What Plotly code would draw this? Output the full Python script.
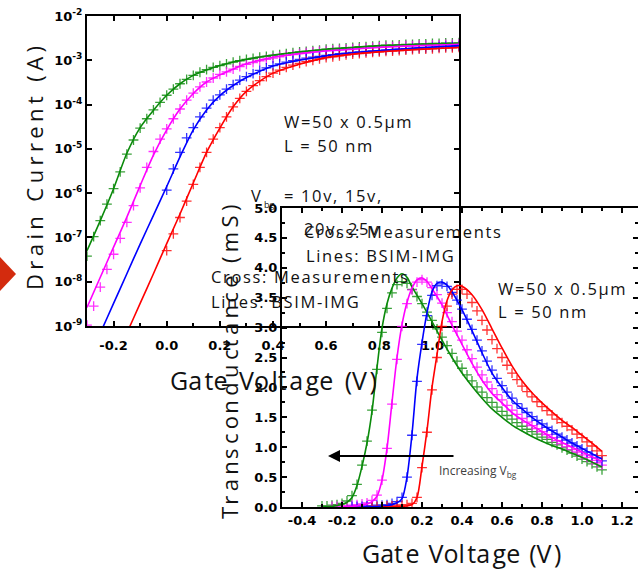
import plotly.graph_objects as go

# ---------------- data ----------------
# Left panel: Drain current (log10 of A) vs gate voltage (V)
V_LINE_ID = [-0.3, -0.25, -0.2, -0.15, -0.1, -0.05, 0.0, 0.05, 0.1, 0.15, 0.2, 0.25, 0.3,
             0.4, 0.5, 0.6, 0.7, 0.8, 0.9, 1.0, 1.1]
LOGID_LINE_GREEN = [-7.30, -6.62, -5.90, -5.10, -4.52, -4.13, -3.79, -3.53, -3.34, -3.22, -3.12,
                    -3.04, -2.98, -2.88, -2.81, -2.75, -2.71, -2.67, -2.65, -2.63, -2.62]
LOGID_LINE_MAGENTA = [-8.58, -7.90, -7.22, -6.54, -5.83, -5.14, -4.57, -4.10, -3.75, -3.49, -3.33,
                      -3.20, -3.08, -2.93, -2.85, -2.79, -2.75, -2.71, -2.68, -2.66, -2.64]
LOGID_LINE_BLUE = [-9.83, -9.16, -8.49, -7.82, -7.15, -6.50, -5.85, -5.18, -4.57, -4.12, -3.80,
                   -3.57, -3.39, -3.13, -3.00, -2.90, -2.83, -2.78, -2.74, -2.70, -2.67]
LOGID_LINE_RED = [-11.2, -10.5, -9.83, -9.16, -8.49, -7.82, -7.14, -6.47, -5.77, -5.08, -4.53,
                  -4.05, -3.70, -3.29, -3.09, -2.94, -2.86, -2.81, -2.77, -2.74, -2.71]

V_MEAS = [-0.300, -0.275, -0.250, -0.225, -0.200, -0.175, -0.150, -0.125, -0.100, -0.075,
          -0.050, -0.025, 0.000, 0.025, 0.050, 0.075, 0.100, 0.125, 0.150, 0.175,
          0.200, 0.225, 0.250, 0.275, 0.300, 0.325, 0.350, 0.375, 0.400, 0.425,
          0.450, 0.475, 0.500, 0.525, 0.550, 0.575, 0.600, 0.625, 0.650, 0.675,
          0.700, 0.725, 0.750, 0.775, 0.800, 0.825, 0.850, 0.875, 0.900, 0.925,
          0.950, 0.975, 1.000, 1.025, 1.050, 1.075, 1.100]

LOGID_MEAS_GREEN = [-7.42, -6.98, -6.62, -6.25, -5.90, -5.52, -5.12, -4.80, -4.53, -4.32,
                    -4.12, -3.95, -3.79, -3.65, -3.53, -3.43, -3.34, -3.27, -3.21, -3.16,
                    -3.12, -3.08, -3.04, -3.01, -2.98, -2.96, -2.93, -2.91, -2.89, -2.87,
                    -2.85, -2.83, -2.81, -2.80, -2.78, -2.77, -2.75, -2.74, -2.73, -2.72,
                    -2.71, -2.70, -2.69, -2.68, -2.67, -2.66, -2.66, -2.65, -2.64, -2.64,
                    -2.63, -2.63, -2.62, -2.62, -2.61, -2.61, -2.60]
LOGID_MEAS_MAGENTA = [-8.98, -8.55, -8.12, -7.72, -7.38, -7.02, -6.66, -6.28, -5.88, -5.42,
                      -5.06, -4.78, -4.55, -4.32, -4.10, -3.90, -3.74, -3.60, -3.49, -3.40,
                      -3.32, -3.26, -3.20, -3.14, -3.09, -3.05, -3.01, -2.98, -2.95, -2.92,
                      -2.89, -2.87, -2.85, -2.83, -2.81, -2.80, -2.78, -2.77, -2.76, -2.75,
                      -2.74, -2.73, -2.72, -2.71, -2.70, -2.69, -2.69, -2.68, -2.67, -2.67,
                      -2.66, -2.66, -2.65, -2.65, -2.64, -2.64, -2.63]
LOGID_MEAS_BLUE = [None] * 12 + [
    -5.93, -5.45, -5.08, -4.75, -4.52, -4.28, -4.08, -3.90, -3.78, -3.65,
    -3.55, -3.45, -3.37, -3.30, -3.23, -3.17, -3.12, -3.08, -3.04, -3.01,
    -2.98, -2.95, -2.93, -2.91, -2.89, -2.87, -2.85, -2.84, -2.82, -2.81,
    -2.80, -2.79, -2.78, -2.77, -2.76, -2.75, -2.74, -2.73, -2.72, -2.72,
    -2.71, -2.70, -2.69, -2.69, -2.68]
LOGID_MEAS_RED = [None] * 12 + [
    -7.30, -6.92, -6.55, -6.18, -5.80, -5.42, -5.08, -4.78, -4.52, -4.28,
    -4.05, -3.86, -3.70, -3.57, -3.46, -3.37, -3.29, -3.22, -3.16, -3.11,
    -3.07, -3.03, -3.00, -2.97, -2.94, -2.92, -2.90, -2.88, -2.86, -2.85,
    -2.83, -2.82, -2.81, -2.80, -2.79, -2.78, -2.77, -2.76, -2.75, -2.75,
    -2.74, -2.73, -2.72, -2.72, -2.71]

# Right panel: transconductance (mS) vs gate voltage (V)
V_GM_GREEN = [-0.3, -0.25, -0.2, -0.175, -0.15, -0.125, -0.1, -0.075, -0.05, -0.025, 0.0, 0.025,
              0.05, 0.075, 0.1, 0.125, 0.15, 0.2, 0.25, 0.3, 0.35, 0.4, 0.45, 0.5, 0.55, 0.6,
              0.65, 0.7, 0.75, 0.8, 0.85, 0.9, 0.95, 1.0, 1.05, 1.1]
GM_LINE_GREEN = [0.0, 0.01, 0.04, 0.08, 0.16, 0.36, 0.68, 1.07, 1.60, 2.33, 2.99, 3.40,
                 3.66, 3.83, 3.90, 3.84, 3.68, 3.40, 3.10, 2.79, 2.50, 2.24, 2.02, 1.82, 1.64, 1.50,
                 1.37, 1.27, 1.18, 1.10, 1.03, 0.97, 0.90, 0.83, 0.75, 0.67]
V_GM_MAGENTA = [-0.2, -0.15, -0.1, -0.075, -0.05, -0.025, 0.0, 0.025, 0.05, 0.075, 0.1, 0.125,
                0.15, 0.175, 0.2, 0.225, 0.25, 0.3, 0.35, 0.4, 0.45, 0.5, 0.55, 0.6, 0.65, 0.7,
                0.75, 0.8, 0.85, 0.9, 0.95, 1.0, 1.05, 1.1]
GM_LINE_MAGENTA = [0.0, 0.01, 0.03, 0.05, 0.09, 0.18, 0.45, 0.98, 1.75, 2.50, 3.05, 3.42,
                   3.66, 3.80, 3.83, 3.77, 3.65, 3.38, 3.04, 2.72, 2.40, 2.12, 1.90, 1.74, 1.58, 1.46,
                   1.36, 1.26, 1.16, 1.08, 1.00, 0.92, 0.84, 0.76]
V_GM_BLUE = [-0.1, 0.0, 0.05, 0.075, 0.1, 0.125, 0.15, 0.175, 0.2, 0.225, 0.25, 0.275, 0.3,
             0.325, 0.35, 0.4, 0.45, 0.5, 0.55, 0.6, 0.65, 0.7, 0.75, 0.8, 0.85, 0.9, 0.95,
             1.0, 1.05, 1.1]
GM_LINE_BLUE = [0.0, 0.01, 0.04, 0.07, 0.14, 0.50, 1.22, 2.15, 2.75, 3.25, 3.60, 3.74, 3.76,
                3.71, 3.60, 3.30, 2.95, 2.58, 2.24, 2.00, 1.79, 1.64, 1.50, 1.38, 1.27, 1.17, 1.07,
                0.98, 0.89, 0.80]
V_GM_RED = [0.0, 0.1, 0.15, 0.175, 0.2, 0.225, 0.25, 0.275, 0.3, 0.325, 0.35, 0.375, 0.4,
            0.45, 0.5, 0.55, 0.6, 0.65, 0.7, 0.75, 0.8, 0.85, 0.9, 0.95, 1.0, 1.05, 1.1]
GM_LINE_RED = [0.0, 0.01, 0.04, 0.16, 0.68, 1.28, 2.00, 2.55, 3.10, 3.45, 3.63, 3.70, 3.69,
               3.55, 3.30, 2.98, 2.66, 2.36, 2.11, 1.91, 1.74, 1.59, 1.45, 1.33, 1.20, 1.07, 0.93]

GM_MEAS_GREEN = [0.02, 0.02, 0.03, 0.04, 0.06, 0.10, 0.19, 0.38, 0.70, 1.10,
                 1.62, 2.30, 2.92, 3.32, 3.58, 3.72, 3.77, 3.74, 3.64, 3.52,
                 3.40, 3.26, 3.12, 2.98, 2.84, 2.70, 2.57, 2.44, 2.32, 2.21,
                 2.11, 2.01, 1.92, 1.83, 1.75, 1.67, 1.60, 1.53, 1.47, 1.41,
                 1.35, 1.30, 1.26, 1.22, 1.17, 1.13, 1.08, 1.04, 0.99, 0.95,
                 0.90, 0.85, 0.80, 0.76, 0.72, 0.67, 0.62]
GM_MEAS_MAGENTA = [None, None, 0.01,
                   0.01, 0.02, 0.02, 0.03, 0.04, 0.05, 0.07, 0.11, 0.20,
                   0.45, 0.98, 1.72, 2.47, 3.02, 3.40, 3.63, 3.76, 3.80, 3.76,
                   3.67, 3.55, 3.41, 3.25, 3.10, 2.94, 2.79, 2.63, 2.48, 2.34,
                   2.21, 2.09, 1.98, 1.88, 1.79, 1.70, 1.62, 1.55, 1.48, 1.42,
                   1.36, 1.31, 1.26, 1.21, 1.16, 1.11, 1.06, 1.01, 0.96, 0.92,
                   0.87, 0.83, 0.78, 0.74, 0.70]
GM_MEAS_BLUE = [None] * 6 + [0.01, 0.01, 0.01, 0.02, 0.02, 0.03,
                             0.03, 0.04, 0.06, 0.09, 0.16, 0.50, 1.20, 2.10, 2.72, 3.20,
                             3.54, 3.70, 3.73, 3.69, 3.59, 3.46, 3.31, 3.14, 2.97, 2.79,
                             2.61, 2.44, 2.29, 2.15, 2.03, 1.92, 1.82, 1.73, 1.65, 1.58,
                             1.51, 1.45, 1.39, 1.33, 1.28, 1.22, 1.17, 1.12, 1.07, 1.02,
                             0.97, 0.92, 0.87, 0.82, 0.77]
GM_MEAS_RED = [None] * 10 + [0.01, 0.01,
                             0.01, 0.02, 0.02, 0.03, 0.03, 0.04, 0.06, 0.16, 0.66, 1.25,
                             1.96, 2.50, 3.02, 3.36, 3.56, 3.64, 3.64, 3.56, 3.42, 3.28,
                             3.12, 2.96, 2.80, 2.65, 2.50, 2.37, 2.24, 2.13, 2.02, 1.93,
                             1.84, 1.76, 1.68, 1.61, 1.54, 1.47, 1.41, 1.35, 1.29, 1.22,
                             1.16, 1.09, 1.02, 0.94, 0.86]

X1_TICKS = [-0.2, 0.0, 0.2, 0.4, 0.6, 0.8, 1.0]
X1_TICKTEXT = ["-0.2", "0.0", "0.2", "0.4", "0.6", "0.8", "1.0"]
Y1_TICKS = [1e-9, 1e-8, 1e-7, 1e-6, 1e-5, 1e-4, 1e-3, 1e-2]
Y1_TICKTEXT = ["10<sup>-9</sup>", "10<sup>-8</sup>", "10<sup>-7</sup>", "10<sup>-6</sup>",
               "10<sup>-5</sup>", "10<sup>-4</sup>", "10<sup>-3</sup>", "10<sup>-2</sup>"]
X2_TICKS = [-0.4, -0.2, 0.0, 0.2, 0.4, 0.6, 0.8, 1.0, 1.2]
X2_TICKTEXT = ["-0.4", "-0.2", "0.0", "0.2", "0.4", "0.6", "0.8", "1.0", "1.2"]
Y2_TICKS = [0.0, 0.5, 1.0, 1.5, 2.0, 2.5, 3.0, 3.5, 4.0, 4.5, 5.0]
Y2_TICKTEXT = ["0.0", "0.5", "1.0", "1.5", "2.0", "2.5", "3.0", "3.5", "4.0", "4.5", "5.0"]

COLORS = {"green": "#0a8a0a", "magenta": "#ff00ff", "blue": "#0000ff", "red": "#ff0000"}

# ---------------- figure ----------------
W, H = 638, 569


def px(x):
    return x / W


def py(y):
    return 1 - y / H


def spaced(s, n=1.0):
    # mimic the wide letter spacing of the original slide text (hair spaces between glyphs)
    out = s[0]
    for i in range(1, len(s)):
        k = int(i * n) - int((i - 1) * n)
        out += "\u200a" * k + s[i]
    return out


fig = go.Figure()

left_lines = [("green", LOGID_LINE_GREEN), ("magenta", LOGID_LINE_MAGENTA),
              ("blue", LOGID_LINE_BLUE), ("red", LOGID_LINE_RED)]
left_meas = [("green", LOGID_MEAS_GREEN), ("magenta", LOGID_MEAS_MAGENTA),
             ("blue", LOGID_MEAS_BLUE), ("red", LOGID_MEAS_RED)]

for name, vals in left_meas:
    fig.add_trace(go.Scatter(
        x=V_MEAS, y=[None if v is None else 10 ** v for v in vals], mode="markers",
        marker=dict(symbol="cross-thin", size=7, color=COLORS[name],
                    line=dict(color=COLORS[name], width=1.3)),
        opacity=0.8, xaxis="x", yaxis="y", showlegend=False))
for name, vals in left_lines:
    fig.add_trace(go.Scatter(
        x=V_LINE_ID, y=[10 ** v for v in vals], mode="lines",
        line=dict(color=COLORS[name], width=1.6, shape="spline", smoothing=0.8),
        xaxis="x", yaxis="y", showlegend=False))

right_lines = [("green", V_GM_GREEN, GM_LINE_GREEN), ("magenta", V_GM_MAGENTA, GM_LINE_MAGENTA),
               ("blue", V_GM_BLUE, GM_LINE_BLUE), ("red", V_GM_RED, GM_LINE_RED)]
right_meas = [("green", GM_MEAS_GREEN), ("magenta", GM_MEAS_MAGENTA),
              ("blue", GM_MEAS_BLUE), ("red", GM_MEAS_RED)]

for name, vals in right_meas:
    fig.add_trace(go.Scatter(
        x=V_MEAS, y=vals, mode="markers",
        marker=dict(symbol="cross-thin", size=7, color=COLORS[name],
                    line=dict(color=COLORS[name], width=1.3)),
        opacity=0.8, xaxis="x2", yaxis="y2", showlegend=False))
for name, xs, ys in right_lines:
    fig.add_trace(go.Scatter(
        x=xs, y=ys, mode="lines",
        line=dict(color=COLORS[name], width=1.6, shape="spline", smoothing=0.8),
        xaxis="x2", yaxis="y2", showlegend=False))

tickfont = dict(family="DejaVu Sans", size=13, color="black", weight="bold")
axis_common = dict(showline=True, linewidth=2, linecolor="black", mirror="allticks",
                   ticks="inside", ticklen=5, tickwidth=1.5, tickcolor="black",
                   showgrid=False, zeroline=False, tickfont=tickfont, automargin=False)

fig.update_layout(
    width=W, height=H, autosize=False,
    margin=dict(l=0, r=0, t=0, b=0, pad=0),
    paper_bgcolor="white", plot_bgcolor="rgba(0,0,0,0)",
    xaxis=dict(domain=[px(87), px(459)], range=[-0.3, 1.1], anchor="y",
               tickvals=X1_TICKS, ticktext=X1_TICKTEXT, ticklabelstandoff=6,
               minor=dict(ticks="inside", dtick=0.1, tick0=0, ticklen=3, tickcolor="black"),
               **axis_common),
    yaxis=dict(domain=[py(326), py(16)], type="log", range=[-9, -2], anchor="x",
               tickvals=Y1_TICKS, ticktext=Y1_TICKTEXT, **axis_common),
    xaxis2=dict(domain=[px(282), 1.0], range=[-0.5, 1.28], anchor="y2",
                tickvals=X2_TICKS, ticktext=X2_TICKTEXT,
                minor=dict(ticks="inside", dtick=0.1, tick0=0, ticklen=3, tickcolor="black"),
                **axis_common),
    yaxis2=dict(domain=[py(507), py(208)], range=[0, 5], anchor="x2",
                tickvals=Y2_TICKS, ticktext=Y2_TICKTEXT,
                minor=dict(ticks="inside", dtick=0.25, tick0=0, ticklen=3, tickcolor="black"),
                **axis_common),
)

TXT = "Open Sans"
ann = []


def text(x, y, s, size=16.5, anchor="left", angle=0, color="#111111"):
    ann.append(dict(x=px(x), y=py(y), xref="paper", yref="paper", text=s, showarrow=False,
                    xanchor=anchor, yanchor="middle", textangle=angle, borderpad=0,
                    font=dict(family=TXT, size=size, color=color)))


# axis titles
text(273, 380, spaced("Gate Voltage (V)", 0.62), size=25, anchor="center")
text(461, 553, spaced("Gate Voltage (V)", 0.4), size=25, anchor="center")
text(34, 168, spaced("Drain Current (A)", 2), size=22, anchor="center", angle=-90)
text(229, 362, spaced("Transconductance (mS)", 1.7), size=22, anchor="center", angle=-90)

# left panel labels
text(283, 121, spaced("W=50 x 0.5μm"))
text(283, 145, spaced("L = 50 nm"))
text(250, 195, "V")
text(263, 205, "bg", size=9)
text(283, 195, spaced("= 10v, 15v,"))
text(303, 228, spaced("20v, 25v"))
text(210, 277, spaced("Cross: Measurements"))
text(210, 301, spaced("Lines: BSIM-IMG"))

# right panel labels
text(303, 232, spaced("Cross: Measurements"))
text(305, 256, spaced("Lines: BSIM-IMG"))
text(497, 288, spaced("W=50 x 0.5μm"))
text(497, 311, spaced("L = 50 nm"))
text(438, 471, "Increasing V<sub>bg</sub>", size=12, color="#404040")

ann.append(dict(x=px(328), y=py(456), xref="paper", yref="paper", text="", showarrow=True,
                ax=127, ay=0, arrowhead=2, arrowsize=1.2, arrowwidth=2, arrowcolor="black"))

fig.update_layout(annotations=ann)

fig.add_shape(type="path", xref="paper", yref="paper",
              path=f"M {px(0)},{py(257)} L {px(16)},{py(274)} L {px(0)},{py(291)} Z",
              fillcolor="#d32b0e", line=dict(width=0))

fig.write_html("out.html", config={"displayModeBar": False},
               post_script="document.body.style.margin='0';document.body.style.overflow='hidden';")
